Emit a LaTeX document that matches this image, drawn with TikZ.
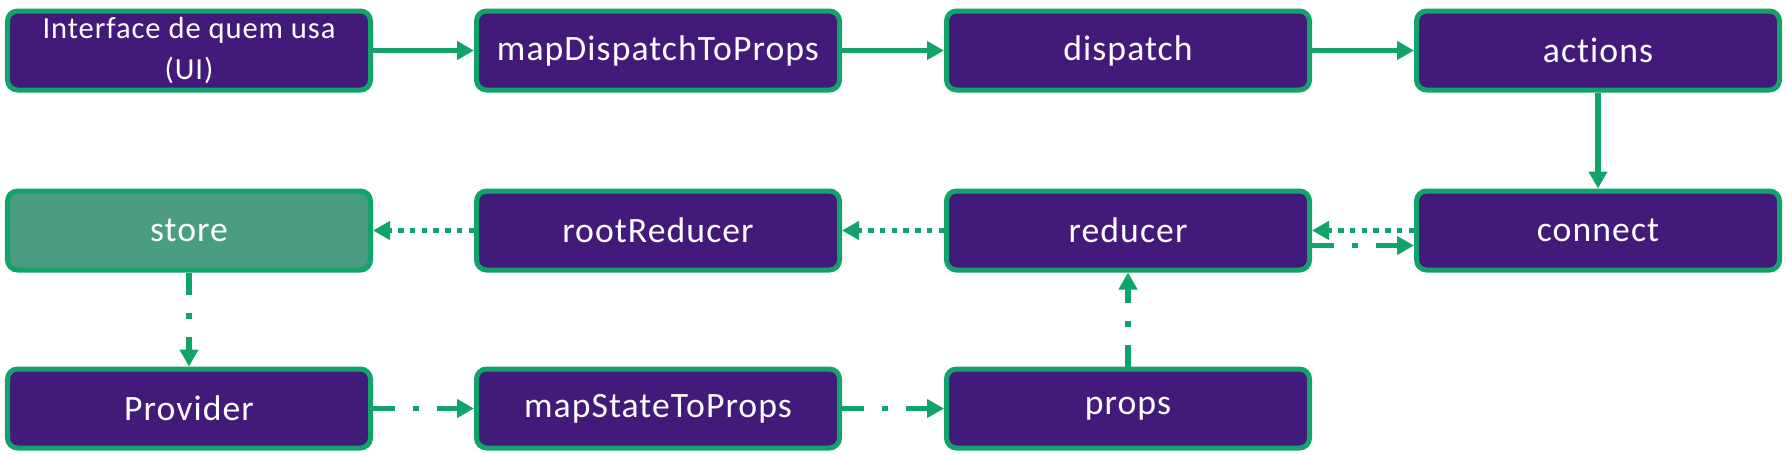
\documentclass[tikz,border=0pt]{standalone}
\usepackage{fontspec}
\setmainfont{Carlito}[LetterSpace=3, Ligatures={NoCommon}]
\usetikzlibrary{arrows.meta}
\definecolor{boxPurple}{HTML}{421A7A}
\definecolor{lineGreen}{HTML}{12A36B}
\definecolor{storeGreen}{HTML}{4A9D80}

\begin{document}
\begin{tikzpicture}[
    flowBox/.style={draw=lineGreen, line width=0.1cm, fill=boxPurple, rounded corners=0.2cm,
      minimum width=7.26cm, minimum height=1.58cm, text=white, align=center,
      font=\fontsize{20.3}{24}\selectfont},
    storeBox/.style={flowBox, fill=storeGreen},
    flowArrow/.style={lineGreen, line width=0.11cm, -{Triangle[length=0.34cm, width=0.36cm]}},
    dottedArrow/.style={flowArrow, dash pattern=on 0.11cm off 0.125cm},
    dashDotArrow/.style={flowArrow, dash pattern=on 0.44cm off 0.36cm on 0.12cm off 0.36cm}
  ]
        \useasboundingbox (0,0) rectangle (35.72,-9.08);
        % top row
        \node[flowBox, font=\fontsize{17.4}{22.8}\selectfont] (ui) at (3.78,-1.01) {Interface de quem usa\\(UI)};
        \node[flowBox] (mapDispatch) at (13.16,-1.01) {mapDispatchToProps};
        \node[flowBox] (dispatch) at (22.56,-1.01) {dispatch};
        \node[flowBox] (actions) at (31.96,-1.01) {actions};
        % middle row
        \node[storeBox] (store) at (3.78,-4.61) {store};
        \node[flowBox] (rootReducer) at (13.16,-4.61) {rootReducer};
        \node[flowBox] (reducer) at (22.56,-4.61) {reducer};
        \node[flowBox] (connect) at (31.96,-4.61) {connect};
        % bottom row
        \node[flowBox] (provider) at (3.78,-8.17) {Provider};
        \node[flowBox] (mapState) at (13.16,-8.17) {mapStateToProps};
        \node[flowBox] (props) at (22.56,-8.17) {props};

        \draw[flowArrow] (ui) -- (mapDispatch);
        \draw[flowArrow] (mapDispatch) -- (dispatch);
        \draw[flowArrow] (dispatch) -- (actions);
        \draw[flowArrow] (actions) -- (connect);
        \draw[dottedArrow] (connect) -- (reducer);
        \draw[dashDotArrow] ([yshift=-0.3cm]reducer.east) -- ([yshift=-0.3cm]connect.west);
        \draw[dottedArrow] (reducer) -- (rootReducer);
        \draw[dottedArrow] (rootReducer) -- (store);
        \draw[dashDotArrow] (store) -- (provider);
        \draw[dashDotArrow] (provider) -- (mapState);
        \draw[dashDotArrow] (mapState) -- (props);
        \draw[dashDotArrow] (props) -- (reducer);
      \end{tikzpicture}
\end{document}
